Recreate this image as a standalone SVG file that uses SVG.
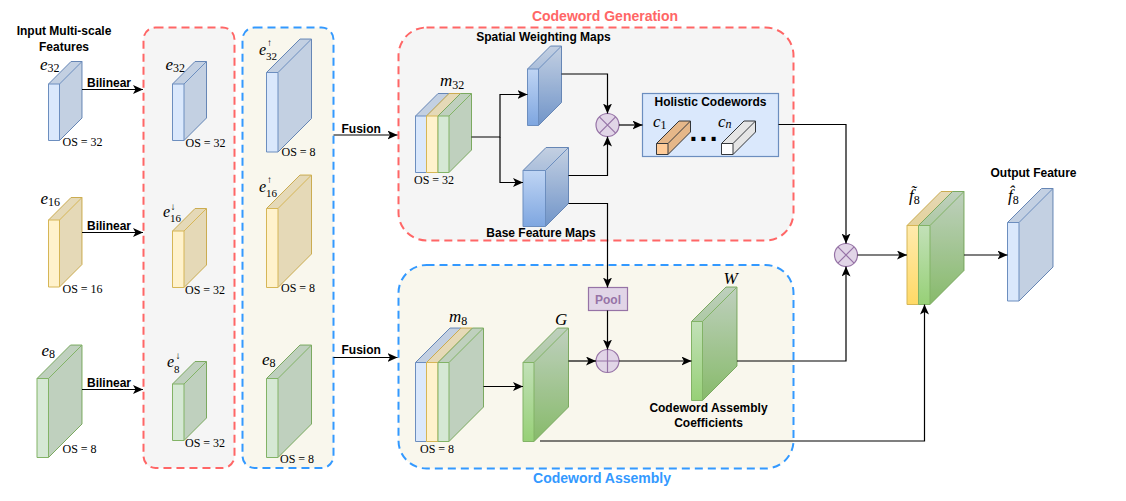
<svg xmlns="http://www.w3.org/2000/svg" width="1126" height="501" viewBox="0 0 1126 501">
<style>
.lb{font-family:"Liberation Sans",Arial,sans-serif;font-weight:bold;font-size:12px;fill:#000}
.ttl{font-family:"Liberation Sans",Arial,sans-serif;font-weight:bold;font-size:14px}
.mi{font-family:"Liberation Serif","DejaVu Serif",serif;font-style:italic;font-size:17px;fill:#000}
.mi2{font-size:16px}
.sb{font-style:normal;font-size:12px}
.sb2{font-style:normal;font-size:11px}
.ar{font-style:normal;font-size:10px}
.os{font-family:"Liberation Serif","DejaVu Serif",serif;font-size:12px;fill:#000}
.dk{fill:#000;fill-opacity:0.1;stroke:none}
.ed{fill:none}
.cb{stroke:#6c8ebf}
.cy{stroke:#d6b656}
.cg{stroke:#82b366}
.co{stroke:#36393d}
.fb{fill:#dae8fc}
.fy{fill:#fff2cc}
.fg{fill:#d5e8d4}
.fbg{fill:url(#gb)}
.fgg{fill:url(#gg)}
.fyg{fill:url(#gy)}
.fo{fill:#ffcc99}
.fw{fill:#ffffff}
.ln{fill:none;stroke:#000;stroke-width:1.2;marker-end:url(#ah)}
.op{fill:#e1d5e7;stroke:#9673a6;stroke-width:1.2}
.dots{font-family:"Liberation Sans",Arial,sans-serif;font-weight:bold;font-size:28px;letter-spacing:2.3px;fill:#000}
</style>
<defs>
<linearGradient id="gb" x1="0" y1="0" x2="0" y2="1"><stop offset="0" stop-color="#dae8fc"/><stop offset="1" stop-color="#7ea6e0"/></linearGradient>
<linearGradient id="gg" x1="0" y1="0" x2="0" y2="1"><stop offset="0" stop-color="#d5e8d4"/><stop offset="1" stop-color="#97d077"/></linearGradient>
<linearGradient id="gy" x1="0" y1="0" x2="0" y2="1"><stop offset="0" stop-color="#fff2cc"/><stop offset="1" stop-color="#ffd966"/></linearGradient>
<marker id="ah" viewBox="0 0 10 9" refX="10" refY="4.5" markerWidth="10" markerHeight="9" markerUnits="userSpaceOnUse" orient="auto">
<path d="M0,0 L10,4.5 L0,9 L2.5,4.5 Z" fill="#000"/>
</marker>
</defs>

<!-- group boxes -->
<g id="box-downsample">
<rect x="143.5" y="27.5" width="91" height="440.5" rx="12" fill="#f5f5f5" stroke="#ff6666" stroke-width="2" stroke-dasharray="8 5"/>
</g>
<g id="box-upsample">
<rect x="242.5" y="27.5" width="91" height="440.5" rx="12" fill="#f9f7ed" stroke="#3399ff" stroke-width="2" stroke-dasharray="8 5"/>
</g>
<g id="box-codeword-generation">
<rect x="398.5" y="27.5" width="395" height="213" rx="28" fill="#f5f5f5" stroke="#ff6666" stroke-width="2" stroke-dasharray="8 5"/>
<text class="ttl" x="605" y="21" text-anchor="middle" fill="#ff6666">Codeword Generation</text>
</g>
<g id="box-codeword-assembly">
<rect x="398.5" y="265" width="395" height="203.5" rx="28" fill="#f9f7ed" stroke="#3399ff" stroke-width="2" stroke-dasharray="8 5"/>
<text class="ttl" x="602" y="483" text-anchor="middle" fill="#3399ff">Codeword Assembly</text>
</g>

<!-- input features -->
<g id="title-input">
<text class="lb" x="64" y="35" text-anchor="middle">Input Multi-scale</text>
<text class="lb" x="64" y="51" text-anchor="middle">Features</text>
</g>
<g id="in-e32" class="cb">
<path class="fb" d="M48.5,84 l22.5,-22.5 h11 v56.5 l-22.5,22.5 h-11 Z"/>
<path class="dk" d="M48.5,84 l22.5,-22.5 h11 v56.5 l-22.5,22.5 v-56.5 Z"/>
<path class="ed" d="M48.5,84 h11 v56.5 M59.5,84 l22.5,-22.5"/>
<text class="mi" x="40" y="70" stroke="none">e<tspan class="sb" dy="2">32</tspan></text>
<text class="os" x="62.5" y="146" stroke="none">OS = 32</text>
</g>
<g id="in-e16" class="cy">
<path class="fy" d="M48.5,220 l22.5,-22.5 h11 v67 l-22.5,22.5 h-11 Z"/>
<path class="dk" d="M48.5,220 l22.5,-22.5 h11 v67 l-22.5,22.5 v-67 Z"/>
<path class="ed" d="M48.5,220 h11 v67 M59.5,220 l22.5,-22.5"/>
<text class="mi" x="40.5" y="204" stroke="none">e<tspan class="sb" dy="2">16</tspan></text>
<text class="os" x="62.5" y="292.5" stroke="none">OS = 16</text>
</g>
<g id="in-e8" class="cg">
<path class="fg" d="M37,378.5 l33.5,-33.5 h11.5 v79 l-33.5,33.5 h-11.5 Z"/>
<path class="dk" d="M37,378.5 l33.5,-33.5 h11.5 v79 l-33.5,33.5 v-79 Z"/>
<path class="ed" d="M37,378.5 h11.5 v79 M48.5,378.5 l33.5,-33.5"/>
<text class="mi" x="41.5" y="356" stroke="none">e<tspan class="sb" dy="2">8</tspan></text>
<text class="os" x="62.5" y="453" stroke="none">OS = 8</text>
</g>

<!-- downsampled -->
<g id="ds-e32" class="cb">
<path class="fb" d="M172.5,84 l22.5,-22.5 h11.5 v56.5 l-22.5,22.5 h-11.5 Z"/>
<path class="dk" d="M172.5,84 l22.5,-22.5 h11.5 v56.5 l-22.5,22.5 v-56.5 Z"/>
<path class="ed" d="M172.5,84 h11.5 v56.5 M184,84 l22.5,-22.5"/>
<text class="mi" x="165.5" y="70" stroke="none">e<tspan class="sb" dy="2">32</tspan></text>
<text class="os" x="185.5" y="147" stroke="none">OS = 32</text>
</g>
<g id="ds-e16" class="cy">
<path class="fy" d="M172.5,231 l22.5,-22.5 h11.5 v56.5 l-22.5,22.5 h-11.5 Z"/>
<path class="dk" d="M172.5,231 l22.5,-22.5 h11.5 v56.5 l-22.5,22.5 v-56.5 Z"/>
<path class="ed" d="M172.5,231 h11.5 v56.5 M184,231 l22.5,-22.5"/>
<text class="mi mi2" x="163" y="216.5" stroke="none">e<tspan class="sb2" dy="5">16</tspan><tspan class="ar" x="170.5" y="210">↓</tspan></text>
<text class="os" x="185" y="294" stroke="none">OS = 32</text>
</g>
<g id="ds-e8" class="cg">
<path class="fg" d="M172.5,384 l22.5,-22.5 h11.5 v56.5 l-22.5,22.5 h-11.5 Z"/>
<path class="dk" d="M172.5,384 l22.5,-22.5 h11.5 v56.5 l-22.5,22.5 v-56.5 Z"/>
<path class="ed" d="M172.5,384 h11.5 v56.5 M184,384 l22.5,-22.5"/>
<text class="mi mi2" x="167" y="367" stroke="none">e<tspan class="sb2" dy="5.5">8</tspan><tspan class="ar" x="175.5" y="359">↓</tspan></text>
<text class="os" x="185" y="447" stroke="none">OS = 32</text>
</g>

<!-- upsampled -->
<g id="us-e32" class="cb">
<path class="fb" d="M266.5,72.5 l33.5,-33.5 h11.5 v79.5 l-33.5,33.5 h-11.5 Z"/>
<path class="dk" d="M266.5,72.5 l33.5,-33.5 h11.5 v79.5 l-33.5,33.5 v-79.5 Z"/>
<path class="ed" d="M266.5,72.5 h11.5 v79.5 M278,72.5 l33.5,-33.5"/>
<text class="mi mi2" x="259" y="55" stroke="none">e<tspan class="sb2" dy="4.5">32</tspan><tspan class="ar" x="267" y="45.5">↑</tspan></text>
<text class="os" x="281.5" y="156" stroke="none">OS = 8</text>
</g>
<g id="us-e16" class="cy">
<path class="fy" d="M266.5,208.5 l33.5,-33.5 h11.5 v79 l-33.5,33.5 h-11.5 Z"/>
<path class="dk" d="M266.5,208.5 l33.5,-33.5 h11.5 v79 l-33.5,33.5 v-79 Z"/>
<path class="ed" d="M266.5,208.5 h11.5 v79 M278,208.5 l33.5,-33.5"/>
<text class="mi mi2" x="259" y="191.5" stroke="none">e<tspan class="sb2" dy="5">16</tspan><tspan class="ar" x="267" y="183">↑</tspan></text>
<text class="os" x="281" y="292" stroke="none">OS = 8</text>
</g>
<g id="us-e8" class="cg">
<path class="fg" d="M266.5,378.5 l33.5,-33.5 h11.5 v79 l-33.5,33.5 h-11.5 Z"/>
<path class="dk" d="M266.5,378.5 l33.5,-33.5 h11.5 v79 l-33.5,33.5 v-79 Z"/>
<path class="ed" d="M266.5,378.5 h11.5 v79 M278,378.5 l33.5,-33.5"/>
<text class="mi" x="262" y="365" stroke="none">e<tspan class="sb" dy="2">8</tspan></text>
<text class="os" x="280" y="463" stroke="none">OS = 8</text>
</g>

<!-- m32 -->
<g id="m32">
<g class="cb">
<path class="fb" d="M415.5,116 l22.5,-22.5 h11 v56.5 l-22.5,22.5 h-11 Z"/>
<path class="dk" d="M415.5,116 l22.5,-22.5 h11 v56.5 l-22.5,22.5 v-56.5 Z"/>
<path class="ed" d="M415.5,116 h11 v56.5 M426.5,116 l22.5,-22.5"/>
</g>
<g class="cy">
<path class="fy" d="M426.5,116 l22.5,-22.5 h11.5 v56.5 l-22.5,22.5 h-11.5 Z"/>
<path class="dk" d="M426.5,116 l22.5,-22.5 h11.5 v56.5 l-22.5,22.5 v-56.5 Z"/>
<path class="ed" d="M426.5,116 h11.5 v56.5 M438,116 l22.5,-22.5"/>
</g>
<g class="cg">
<path class="fg" d="M438,116 l22.5,-22.5 h11 v56.5 l-22.5,22.5 h-11 Z"/>
<path class="dk" d="M438,116 l22.5,-22.5 h11 v56.5 l-22.5,22.5 v-56.5 Z"/>
<path class="ed" d="M438,116 h11 v56.5 M449,116 l22.5,-22.5"/>
</g>
<text class="mi" x="440" y="86">m<tspan class="sb" dy="2.5">32</tspan></text>
<text class="os" x="414" y="184">OS = 32</text>
</g>

<!-- spatial weighting maps -->
<g id="spatial-maps" class="cb">
<path class="fbg" d="M527.5,69 l23,-23 h11 v56.5 l-23,23 h-11 Z"/>
<path class="dk" d="M527.5,69 l23,-23 h11 v56.5 l-23,23 v-56.5 Z"/>
<path class="ed" d="M527.5,69 h11 v56.5 M538.5,69 l23,-23"/>
<text class="lb" x="543.5" y="41" text-anchor="middle" stroke="none">Spatial Weighting Maps</text>
</g>
<!-- base feature maps -->
<g id="base-maps" class="cb">
<path class="fbg" d="M523,170.5 l23,-23 h22.5 v56 l-23,23 h-22.5 Z"/>
<path class="dk" d="M523,170.5 l23,-23 h22.5 v56 l-23,23 v-56 Z"/>
<path class="ed" d="M523,170.5 h22.5 v56 M545.5,170.5 l23,-23"/>
<text class="lb" x="541" y="236.5" text-anchor="middle" stroke="none">Base Feature Maps</text>
</g>

<g id="otimes1">
<circle class="op" cx="607.5" cy="125" r="11.5"/>
<path d="M599.4,116.9 L615.6,133.1 M615.6,116.9 L599.4,133.1" stroke="#9673a6" stroke-width="1.2"/>
</g>

<!-- holistic codewords -->
<g id="holistic-codewords">
<rect x="642.5" y="93.5" width="136" height="63" fill="#dae8fc" stroke="#6c8ebf" stroke-width="1.2"/>
<text class="lb" x="710.5" y="106" text-anchor="middle">Holistic Codewords</text>
<g class="co">
<path class="fo" d="M656.5,143.5 l22.5,-22.5 h11.5 v11 l-22.5,22.5 h-11.5 Z"/>
<path class="dk" d="M656.5,143.5 l22.5,-22.5 h11.5 v11 l-22.5,22.5 v-11 Z"/>
<path class="ed" d="M656.5,143.5 h11.5 v11 M668,143.5 l22.5,-22.5"/>
</g>
<g class="co">
<path class="fw" d="M721.5,143.5 l22.5,-22.5 h11.5 v11 l-22.5,22.5 h-11.5 Z"/>
<path class="dk" d="M721.5,143.5 l22.5,-22.5 h11.5 v11 l-22.5,22.5 v-11 Z"/>
<path class="ed" d="M721.5,143.5 h11.5 v11 M733,143.5 l22.5,-22.5"/>
</g>
<text class="mi" x="653" y="126.5">c<tspan class="sb" dy="2">1</tspan></text>
<text class="mi" x="718" y="126.5">c<tspan class="sb" dy="1.5" style="font-style:italic">n</tspan></text>
<text class="dots" x="689.5" y="140.5">...</text>
</g>

<!-- pool -->
<g id="pool">
<rect x="588.5" y="287.5" width="39" height="23" fill="#e1d5e7" stroke="#9673a6" stroke-width="1.2"/>
<text class="lb" x="608" y="303.5" text-anchor="middle" style="fill:#9673a6">Pool</text>
</g>

<!-- m8 -->
<g id="m8">
<g class="cb">
<path class="fb" d="M415.5,362.5 l34.5,-34.5 h11 v79 l-34.5,34.5 h-11 Z"/>
<path class="dk" d="M415.5,362.5 l34.5,-34.5 h11 v79 l-34.5,34.5 v-79 Z"/>
<path class="ed" d="M415.5,362.5 h11 v79 M426.5,362.5 l34.5,-34.5"/>
</g>
<g class="cy">
<path class="fy" d="M426.5,362.5 l34.5,-34.5 h11.5 v79 l-34.5,34.5 h-11.5 Z"/>
<path class="dk" d="M426.5,362.5 l34.5,-34.5 h11.5 v79 l-34.5,34.5 v-79 Z"/>
<path class="ed" d="M426.5,362.5 h11.5 v79 M438,362.5 l34.5,-34.5"/>
</g>
<g class="cg">
<path class="fg" d="M438,362.5 l34.5,-34.5 h11 v79 l-34.5,34.5 h-11 Z"/>
<path class="dk" d="M438,362.5 l34.5,-34.5 h11 v79 l-34.5,34.5 v-79 Z"/>
<path class="ed" d="M438,362.5 h11 v79 M449,362.5 l34.5,-34.5"/>
</g>
<text class="mi" x="449" y="322">m<tspan class="sb" dy="2.5">8</tspan></text>
<text class="os" x="420" y="453">OS = 8</text>
</g>

<!-- G -->
<g id="G" class="cg">
<path class="fgg" d="M523,362.5 l34.5,-34.5 h11 v79 l-34.5,34.5 h-11 Z"/>
<path class="dk" d="M523,362.5 l34.5,-34.5 h11 v79 l-34.5,34.5 v-79 Z"/>
<path class="ed" d="M523,362.5 h11 v79 M534,362.5 l34.5,-34.5"/>
<text class="mi" x="555" y="325" stroke="none">G</text>
</g>

<g id="oplus">
<circle class="op" cx="607.5" cy="361" r="11.5"/>
<path d="M607.5,349.5 V372.5 M596,361 H619" stroke="#9673a6" stroke-width="1.2"/>
</g>

<!-- W -->
<g id="W" class="cg">
<path class="fgg" d="M691.5,321.5 l34.5,-34.5 h11 v79 l-34.5,34.5 h-11 Z"/>
<path class="dk" d="M691.5,321.5 l34.5,-34.5 h11 v79 l-34.5,34.5 v-79 Z"/>
<path class="ed" d="M691.5,321.5 h11 v79 M702.5,321.5 l34.5,-34.5"/>
<text class="mi" x="723.5" y="283.5" stroke="none">W</text>
<text class="lb" x="708.5" y="411.5" text-anchor="middle" stroke="none">Codeword Assembly</text>
<text class="lb" x="708.5" y="427" text-anchor="middle" stroke="none">Coefficients</text>
</g>

<g id="otimes2">
<circle class="op" cx="846" cy="255" r="11.5"/>
<path d="M837.9,246.9 L854.1,263.1 M854.1,246.9 L837.9,263.1" stroke="#9673a6" stroke-width="1.2"/>
</g>

<!-- f8 tilde -->
<g id="f8-tilde">
<g class="cy">
<path class="fyg" d="M907,225.5 l34,-34 h11.5 v79 l-34,34 h-11.5 Z"/>
<path class="dk" d="M907,225.5 l34,-34 h11.5 v79 l-34,34 v-79 Z"/>
<path class="ed" d="M907,225.5 h11.5 v79 M918.5,225.5 l34,-34"/>
</g>
<g class="cg">
<path class="fgg" d="M918.5,225.5 l34,-34 h11.5 v79 l-34,34 h-11.5 Z"/>
<path class="dk" d="M918.5,225.5 l34,-34 h11.5 v79 l-34,34 v-79 Z"/>
<path class="ed" d="M918.5,225.5 h11.5 v79 M930,225.5 l34,-34"/>
</g>
<text class="mi" x="909" y="201">f̃<tspan class="sb" dy="3">8</tspan></text>
</g>

<!-- output -->
<g id="f8-hat" class="cb">
<path class="fb" d="M1007.5,222.5 l34,-34 h11.5 v78.5 l-34,34 h-11.5 Z"/>
<path class="dk" d="M1007.5,222.5 l34,-34 h11.5 v78.5 l-34,34 v-78.5 Z"/>
<path class="ed" d="M1007.5,222.5 h11.5 v78.5 M1019,222.5 l34,-34"/>
<text class="mi" x="1008" y="201" stroke="none">f̂<tspan class="sb" dy="3">8</tspan></text>
<text class="lb" x="1033.5" y="176.5" text-anchor="middle" stroke="none">Output Feature</text>
</g>

<!-- connectors -->
<g id="connectors">
<path class="ln" d="M82,89.5 H143"/>
<path class="ln" d="M82,232.5 H143"/>
<path class="ln" d="M82,389.5 H143"/>
<path class="ln" d="M333.5,135 H397.5"/>
<path class="ln" d="M333.5,357.5 H397.5"/>
<path class="ln" d="M471.5,137 H500 V94.5 H527.5"/>
<path class="ln" d="M500,137 V182.5 H523"/>
<path class="ln" d="M561.5,74 H607.5 V113.5"/>
<path class="ln" d="M568.5,175.5 H607.5 V136.5"/>
<path class="ln" d="M619,125 H642.5"/>
<path class="ln" d="M568.5,203.5 H607.5 V287.5"/>
<path class="ln" d="M607.5,310.5 V349.5"/>
<path class="ln" d="M483.5,386.5 H523"/>
<path class="ln" d="M568.5,361 H596"/>
<path class="ln" d="M619,361 H691.5"/>
<path class="ln" d="M737,361 H846 V266.5"/>
<path class="ln" d="M778.5,124.5 H846 V243.5"/>
<path class="ln" d="M857.5,255 H907"/>
<path class="ln" d="M540,441 H924.5 V304.5"/>
<path class="ln" d="M964,255 H1007.5"/>
</g>
<g id="connector-labels">
<text class="lb" x="87" y="87">Bilinear</text>
<text class="lb" x="87" y="230">Bilinear</text>
<text class="lb" x="87" y="386.5">Bilinear</text>
<text class="lb" x="341.5" y="132.5">Fusion</text>
<text class="lb" x="341.5" y="354">Fusion</text>
</g>
</svg>
